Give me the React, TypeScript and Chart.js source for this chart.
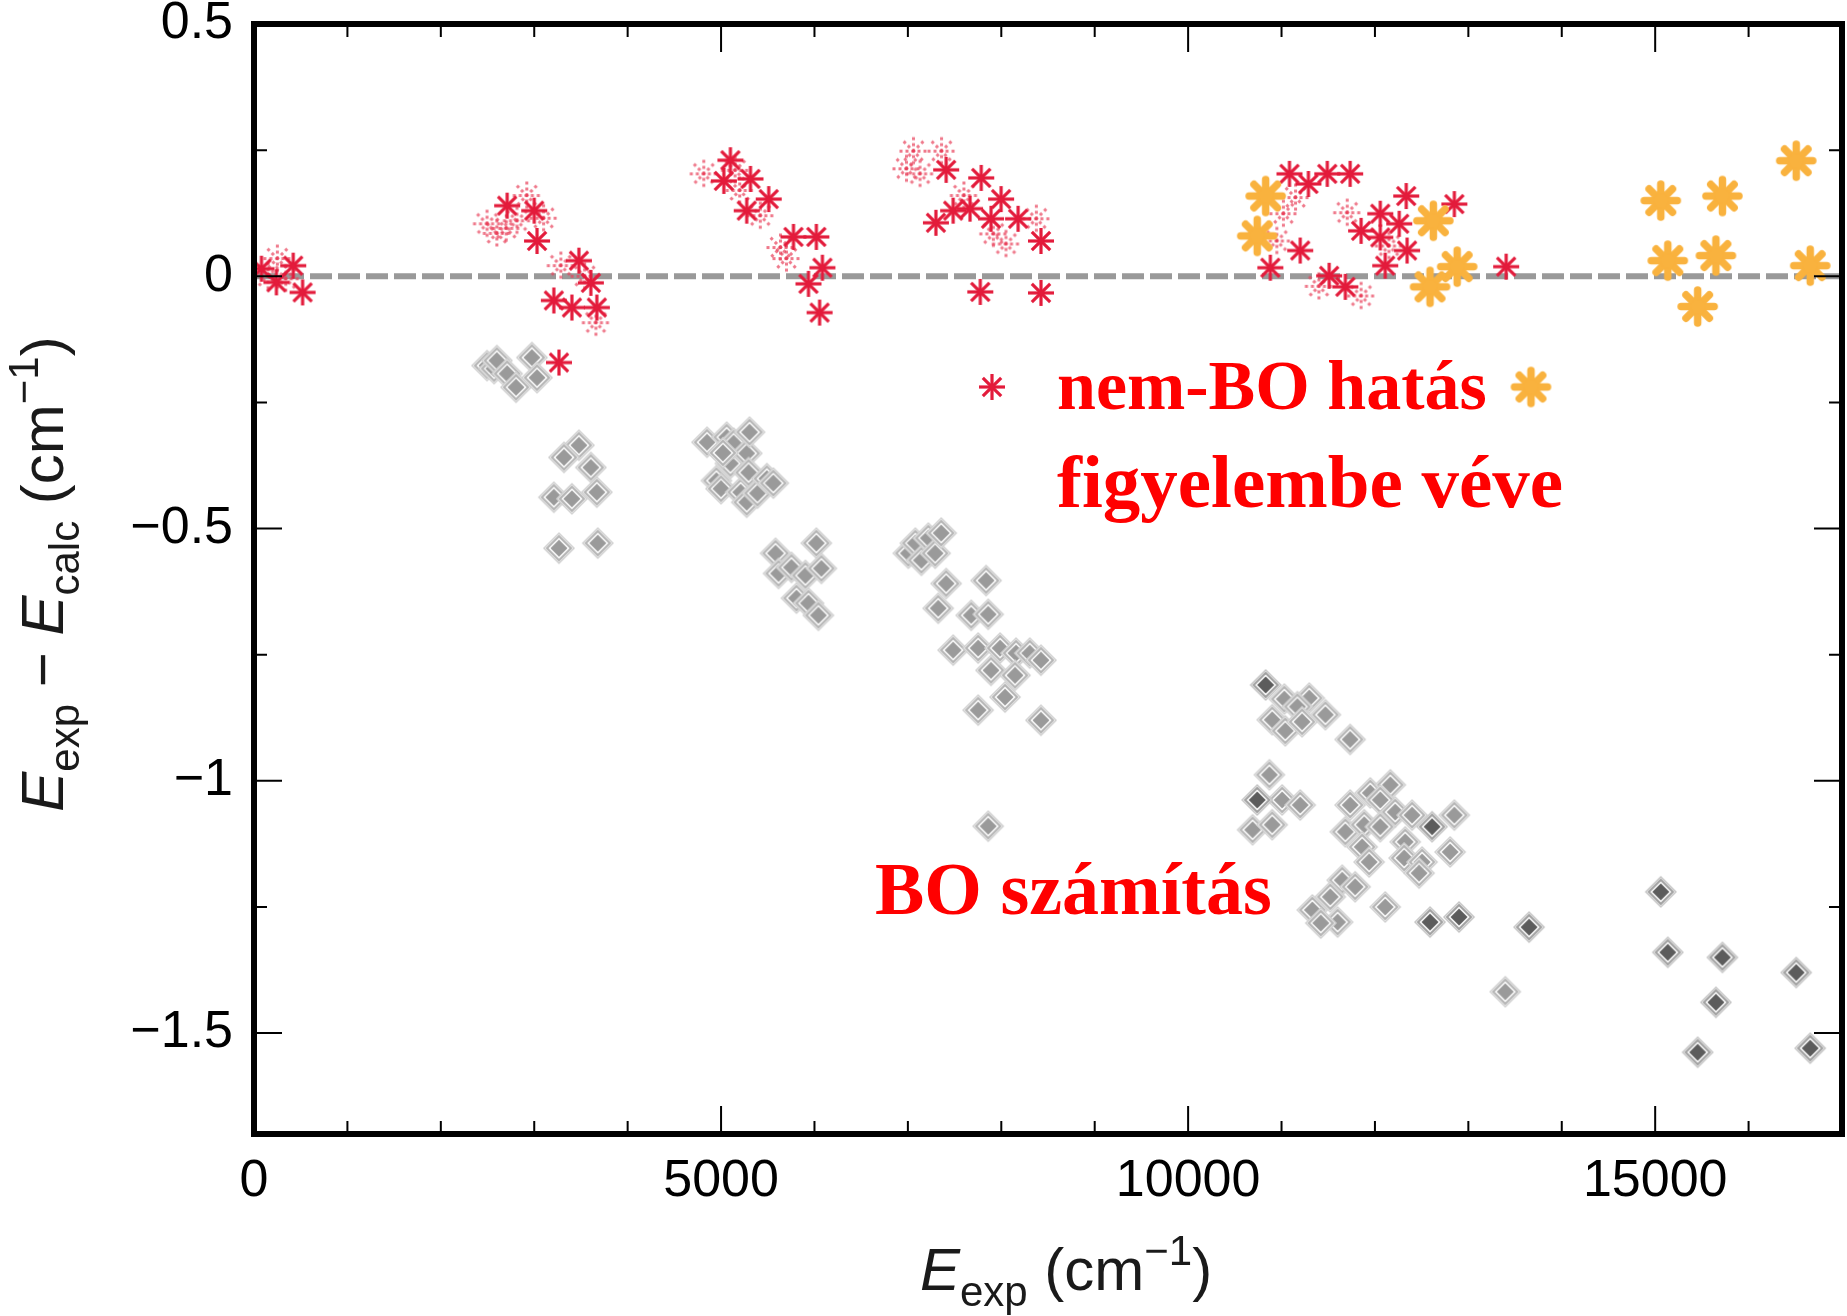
import React, { useEffect, useRef } from "react";
import { Chart, registerables } from "chart.js";

Chart.register(...registerables);

// ---------- data ----------
const X_TICKS = [0, 5000, 10000, 15000];
const X_TICK_LABELS = ["0", "5000", "10000", "15000"];
const X_MINOR = [1000, 2000, 3000, 4000, 5000, 6000, 7000, 8000, 9000, 10000, 11000, 12000, 13000, 14000, 15000, 16000];
const Y_TICKS = [-1.5, -1, -0.5, 0, 0.5];
const Y_TICK_LABELS = ["\u22121.5", "\u22121", "\u22120.5", "0", "0.5"];
const Y_MINOR = [-1.5, -1.25, -1, -0.75, -0.5, -0.25, 0, 0.25];
const Y_MAJOR = [-1.5, -1, -0.5, 0];

// non-BO (red asterisks), solid
const RED_STARS: [number, number][] = [
  [80, 0.015], [420, 0.021], [240, -0.012], [520, -0.032],
  [2710, 0.14], [3000, 0.13], [3030, 0.07],
  [3478, 0.031], [3606, -0.013], [3210, -0.048], [3403, -0.062], [3670, -0.062], [3265, -0.171],
  [5100, 0.23], [5030, 0.189], [5315, 0.193], [5275, 0.13], [5510, 0.153], [5775, 0.078], [6020, 0.078],
  [6085, 0.017], [5936, -0.015], [6055, -0.072],
  [7410, 0.211], [7785, 0.195], [7485, 0.13], [7300, 0.106], [7665, 0.134], [7998, 0.153], [7890, 0.114],
  [8180, 0.114], [8425, 0.07], [7775, -0.031], [8425, -0.033],
  [11085, 0.203], [11288, 0.183], [11490, 0.203], [11735, 0.203], [11200, 0.051], [10880, 0.017],
  [11510, 0.001], [11683, -0.021], [11852, 0.09], [12057, 0.124], [12057, 0.077], [12260, 0.104],
  [12335, 0.159], [12344, 0.051], [12110, 0.021], [12850, 0.143], [13405, 0.019],
];

// non-BO (red asterisks), faint ones
const RED_STARS_FAINT: [number, number][] = [
  [250, 0.035], [150, 0.0], [340, -0.005],
  [2495, 0.104], [2920, 0.16], [2815, 0.11], [2600, 0.085], [3100, 0.115], [2700, 0.095],
  [3285, 0.021], [3660, -0.092], [3540, 0.0],
  [4815, 0.203], [5200, 0.17], [5636, 0.057], [5420, 0.12], [5150, 0.21], [5700, 0.035],
  [7360, 0.248], [7060, 0.248], [7130, 0.203], [6985, 0.213], [8375, 0.114], [7915, 0.084], [8050, 0.064], [7600, 0.16],
  [11150, 0.156], [11020, 0.124], [11852, -0.039], [11703, 0.126], [11400, -0.02], [10950, 0.07], [12150, 0.06],
];

// non-BO with extra correction (orange asterisks)
const ORANGE_STARS: [number, number][] = [
  [10830, 0.159], [10740, 0.08], [12625, 0.11], [12880, 0.019], [12590, -0.021],
  [15060, 0.15], [15720, 0.159], [16510, 0.229], [15135, 0.031], [15650, 0.041], [16660, 0.021], [15455, -0.06],
];

// BO calculation (grey diamonds)
const BO_GRAY: [number, number][] = [
  [2495, -0.177], [2570, -0.183], [2600, -0.167], [2710, -0.193], [2805, -0.22], [2975, -0.161], [3030, -0.201],
  [3478, -0.335], [3318, -0.359], [3606, -0.379], [3210, -0.438], [3403, -0.441], [3670, -0.428], [3265, -0.539], [3680, -0.529],
  [4850, -0.329], [4950, -0.405], [5000, -0.421], [5060, -0.319], [5100, -0.371], [5135, -0.331], [5210, -0.428],
  [5275, -0.351], [5275, -0.448], [5295, -0.389], [5305, -0.309], [5390, -0.43], [5490, -0.401], [5560, -0.41], [5020, -0.35],
  [5583, -0.549], [5615, -0.589], [5754, -0.577], [5807, -0.638], [5903, -0.593], [5936, -0.648], [6020, -0.529], [6042, -0.672], [6074, -0.579],
  [7005, -0.549], [7080, -0.529], [7145, -0.563], [7219, -0.519], [7292, -0.549], [7357, -0.509], [7410, -0.609], [7325, -0.658],
  [7678, -0.672], [7837, -0.603], [7860, -0.67], [7485, -0.741], [7752, -0.737], [7987, -0.737], [8158, -0.747], [8305, -0.747],
  [8425, -0.761], [7890, -0.781], [8147, -0.791], [8040, -0.834], [7752, -0.86], [8425, -0.88], [7860, -1.09],
  [11030, -0.838], [11297, -0.836], [11170, -0.853], [11470, -0.869], [10900, -0.879], [11040, -0.901], [11220, -0.883], [11735, -0.918],
  [10870, -0.988], [11007, -1.038], [11200, -1.048], [10690, -1.097], [10900, -1.087], [11735, -1.048], [11950, -1.024], [12165, -1.008],
  [12057, -1.038], [12217, -1.062], [12398, -1.068], [12850, -1.068], [11683, -1.101], [11885, -1.087], [12057, -1.091], [12324, -1.121],
  [11863, -1.131], [11938, -1.161], [12313, -1.153], [12505, -1.161], [12473, -1.183], [12805, -1.141], [11650, -1.197], [11788, -1.21],
  [11522, -1.23], [11330, -1.256], [11600, -1.28], [11420, -1.282], [12110, -1.25], [13395, -1.418],
];

const BO_DARK: [number, number][] = [
  [10830, -0.81], [10740, -1.038], [12612, -1.091], [12590, -1.28], [12900, -1.27], [13650, -1.29],
  [15060, -1.22], [15135, -1.34], [15720, -1.35], [15650, -1.439], [15455, -1.538], [16510, -1.38], [16660, -1.53],
];

const ZERO_LINE: [number, number][] = [[0, 0], [17000, 0]];

const toPts = (arr: [number, number][]) => arr.map(([x, y]) => ({ x, y }));

// ---------- marker images ----------
function makeStar(r: number, lw: number, color: string, opts: { dash?: number[]; cap?: CanvasLineCap; dot?: number; alpha?: number } = {}) {
  const size = Math.ceil(2 * r + lw + 4);
  const c = document.createElement("canvas");
  c.width = size;
  c.height = size;
  const g = c.getContext("2d")!;
  g.translate(size / 2, size / 2);
  g.globalAlpha = opts.alpha ?? 1;
  g.strokeStyle = color;
  g.fillStyle = color;
  g.lineWidth = lw;
  g.lineCap = opts.cap ?? "butt";
  if (opts.dash) g.setLineDash(opts.dash);
  for (let k = 0; k < 4; k++) {
    const a = (k * Math.PI) / 4;
    g.beginPath();
    g.moveTo(-r * Math.cos(a), -r * Math.sin(a));
    g.lineTo(r * Math.cos(a), r * Math.sin(a));
    g.stroke();
  }
  if (opts.dot) {
    g.beginPath();
    g.arc(0, 0, opts.dot, 0, Math.PI * 2);
    g.fill();
  }
  return c;
}

function makeDiamond(fill: string, ring1: string, ring2: string) {
  const size = 36;
  const c = document.createElement("canvas");
  c.width = size;
  c.height = size;
  const g = c.getContext("2d")!;
  g.translate(size / 2, size / 2);
  const dia = (h: number) => {
    g.beginPath();
    g.moveTo(0, -h);
    g.lineTo(h, 0);
    g.lineTo(0, h);
    g.lineTo(-h, 0);
    g.closePath();
  };
  g.fillStyle = "rgba(255,255,255,0.85)";
  dia(15.5);
  g.fill();
  g.fillStyle = fill;
  dia(8.5);
  g.fill();
  g.strokeStyle = ring1;
  g.lineWidth = 2;
  dia(12);
  g.stroke();
  g.strokeStyle = ring2;
  g.lineWidth = 1.5;
  dia(15);
  g.stroke();
  return c;
}

type Part = { t: string; italic?: boolean; sub?: boolean; sup?: boolean };

function drawRich(g: CanvasRenderingContext2D, parts: Part[], x: number, y: number, size: number, family: string) {
  const fontFor = (p: Part) => `${p.italic ? "italic " : ""}${p.sub || p.sup ? Math.round(size * 0.7) : size}px ${family}`;
  let w = 0;
  for (const p of parts) {
    g.font = fontFor(p);
    w += g.measureText(p.t).width;
  }
  let cx = x - w / 2;
  g.textAlign = "left";
  g.textBaseline = "alphabetic";
  for (const p of parts) {
    g.font = fontFor(p);
    const dy = p.sub ? size * 0.26 : p.sup ? -size * 0.42 : 0;
    g.fillText(p.t, cx, y + dy);
    cx += g.measureText(p.t).width;
  }
}

const Y_TITLE: Part[] = [
  { t: "E", italic: true }, { t: "exp", sub: true }, { t: " \u2212 " }, { t: "E", italic: true }, { t: "calc", sub: true },
  { t: " (cm" }, { t: "\u22121", sup: true }, { t: ")" },
];
const X_TITLE: Part[] = [{ t: "E", italic: true }, { t: "exp", sub: true }, { t: " (cm" }, { t: "\u22121", sup: true }, { t: ")" }];

export default function App() {
  const ref = useRef<HTMLCanvasElement | null>(null);

  useEffect(() => {
    document.body.style.margin = "0";
    const canvas = ref.current!;
    const redStar = makeStar(13, 3.2, "#E31B3B", { dot: 2.5 });
    const redFaint = makeStar(14, 3, "#E8405A", { dash: [3, 3], alpha: 0.7 });
    const orangeStar = makeStar(16.5, 7.5, "#F9B23E", { cap: "round", dot: 7.5 });
    const grayDia = makeDiamond("#9a9a9a", "#b4b4b4", "#cfcfcf");
    const darkDia = makeDiamond("#5c5c5c", "#a0a0a0", "#c4c4c4");

    const family = "'Liberation Sans', Arial, sans-serif";
    const serif = "'Liberation Serif', 'Times New Roman', serif";

    const framePlugin = {
      id: "frameAndText",
      afterDatasetsDraw(chart: any) {
        const g: CanvasRenderingContext2D = chart.ctx;
        const { left, right, top, bottom } = chart.chartArea;
        const xs = chart.scales.x;
        const ys = chart.scales.y;
        g.save();
        g.strokeStyle = "#000";
        g.lineWidth = 2;
        g.beginPath();
        for (const v of X_MINOR) {
          const px = xs.getPixelForValue(v);
          const len = X_TICKS.includes(v) ? 28 : 13;
          g.moveTo(px, bottom);
          g.lineTo(px, bottom - len);
          g.moveTo(px, top);
          g.lineTo(px, top + len);
        }
        for (const v of Y_MINOR) {
          const py = ys.getPixelForValue(v);
          const len = Y_MAJOR.includes(v) ? 28 : 13;
          g.moveTo(left, py);
          g.lineTo(left + len, py);
          g.moveTo(right, py);
          g.lineTo(right - len, py);
        }
        g.stroke();
        g.lineWidth = 6;
        g.strokeRect(left, top, right - left, bottom - top);

        // annotations
        g.fillStyle = "#FF0000";
        g.textAlign = "left";
        g.textBaseline = "alphabetic";
        g.font = `bold 70px ${serif}`;
        g.fillText("nem-BO hatás", 1057, 409);
        g.font = `bold 75px ${serif}`;
        g.fillText("figyelembe véve", 1057, 507);
        g.font = `bold 74px ${serif}`;
        g.fillText("BO számítás", 875, 914);
        g.drawImage(redStar, 992 - redStar.width / 2, 387 - redStar.height / 2);
        g.drawImage(orangeStar, 1531 - orangeStar.width / 2, 387 - orangeStar.height / 2);

        // axis titles
        g.fillStyle = "#1a1a1a";
        drawRich(g, X_TITLE, 1066, 1290, 60, family);
        g.translate(63, 574);
        g.rotate(-Math.PI / 2);
        drawRich(g, Y_TITLE, 0, 0, 60, family);
        g.restore();
      },
    };

    const chart = new Chart(canvas, {
      type: "scatter",
      data: {
        datasets: [
          { label: "orange", data: toPts(ORANGE_STARS), pointStyle: orangeStar as any, order: 1 },
          { label: "red", data: toPts(RED_STARS), pointStyle: redStar as any, order: 2 },
          { label: "redFaint", data: toPts(RED_STARS_FAINT), pointStyle: redFaint as any, order: 3 },
          { label: "boDark", data: toPts(BO_DARK), pointStyle: darkDia as any, order: 4 },
          { label: "boGray", data: toPts(BO_GRAY), pointStyle: grayDia as any, order: 5 },
          {
            type: "line",
            label: "zero",
            data: toPts(ZERO_LINE),
            borderColor: "#999999",
            borderWidth: 6,
            borderDash: [22, 6],
            pointRadius: 0,
            showLine: true,
            fill: false,
            order: 10,
          } as any,
        ],
      },
      options: {
        animation: false,
        responsive: false,
        devicePixelRatio: 1,
        layout: { padding: { top: 24, right: 3, left: 0, bottom: 0 } },
        plugins: { legend: { display: false }, tooltip: { enabled: false } },
        scales: {
          x: {
            type: "linear",
            min: 0,
            max: 17000,
            afterBuildTicks: (s: any) => {
              s.ticks = X_TICKS.map((v) => ({ value: v }));
            },
            afterFit: (s: any) => {
              s.height = 182;
              s.paddingLeft = 0;
              s.paddingRight = 0;
            },
            grid: { display: false, drawTicks: false },
            border: { display: false },
            ticks: {
              autoSkip: false,
              maxRotation: 0,
              padding: 16,
              color: "#000",
              font: { family, size: 52 },
              callback: (v: any) => X_TICK_LABELS[X_TICKS.indexOf(Number(v))] ?? "",
            },
          },
          y: {
            type: "linear",
            min: -1.7,
            max: 0.5,
            afterBuildTicks: (s: any) => {
              s.ticks = Y_TICKS.map((v) => ({ value: v }));
            },
            afterFit: (s: any) => {
              s.width = 254;
              s.paddingTop = 0;
              s.paddingBottom = 0;
            },
            grid: { display: false, drawTicks: false },
            border: { display: false },
            ticks: {
              autoSkip: false,
              padding: 21,
              color: "#000",
              font: { family, size: 52 },
              callback: (v: any) => Y_TICK_LABELS[Y_TICKS.indexOf(Number(v))] ?? "",
            },
          },
        },
      },
      plugins: [framePlugin],
    });
    return () => chart.destroy();
  }, []);

  return (
    <div style={{ width: 1847, height: 1316, background: "#fff" }}>
      <canvas ref={ref} width={1847} height={1316} style={{ display: "block" }} />
    </div>
  );
}
